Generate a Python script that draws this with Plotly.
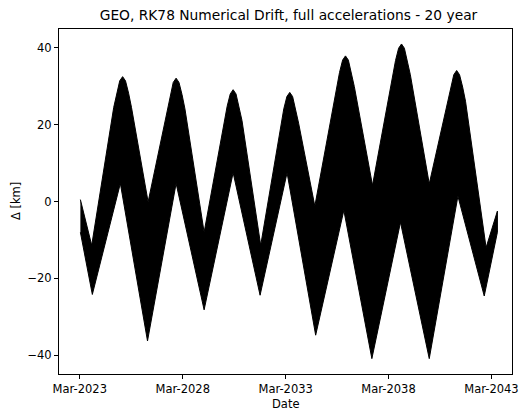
import datetime as dt
import plotly.graph_objects as go

# Upper envelope of the oscillation (decimal year, km)
upper_t = [2023.19, 2023.74,
           2024.81, 2024.95, 2025.10, 2025.24, 2025.38, 2025.53, 2025.67, 2026.48,
           2027.41, 2027.55, 2027.70, 2027.84, 2027.98, 2028.13, 2028.27, 2029.20,
           2030.18, 2030.32, 2030.47, 2030.61, 2030.75, 2030.90, 2031.04, 2031.95,
           2032.93, 2033.07, 2033.22, 2033.36, 2033.50, 2033.65, 2033.79, 2034.58,
           2035.64, 2035.78, 2035.93, 2036.07, 2036.21, 2036.36, 2036.50, 2037.38,
           2038.36, 2038.50, 2038.65, 2038.79, 2038.93, 2039.08, 2039.22, 2040.14,
           2041.04, 2041.18, 2041.33, 2041.47, 2041.61, 2041.76, 2041.90, 2042.90,
           2043.45]
upper_v = [0.5, -11.4,
           24.5, 28.2, 31.4, 32.5, 31.4, 28.2, 24.5, -0.1,
           24.1, 27.8, 31.0, 32.1, 31.0, 27.8, 24.1, -8.0,
           21.1, 24.8, 28.0, 29.1, 28.0, 24.8, 21.1, -11.4,
           20.4, 24.1, 27.3, 28.4, 27.3, 24.1, 20.4, -1.2,
           29.9, 33.6, 36.8, 37.9, 36.8, 33.6, 29.9, 4.2,
           33.0, 36.7, 39.9, 41.0, 39.9, 36.7, 33.0, 4.6,
           26.1, 29.8, 33.0, 34.1, 33.0, 29.8, 26.1, -12.0,
           -2.5]

# Lower envelope of the oscillation (decimal year, km)
lower_t = [2023.19, 2023.77, 2025.13, 2026.45, 2027.84, 2029.20, 2030.61, 2031.92,
           2033.23, 2034.62, 2035.99, 2037.35, 2038.74, 2040.14, 2041.53, 2042.81, 2043.45]
lower_v = [-8.0, -24.2, 4.7, -36.3, 4.7, -28.2, 7.5, -24.4,
           7.5, -34.8, -2.3, -40.9, -5.4, -40.9, 1.4, -24.6, -8.0]

tick_dates = ["2023-03-01", "2028-03-01", "2033-03-01", "2038-03-01", "2043-03-01"]
tick_text = ["Mar-2023", "Mar-2028", "Mar-2033", "Mar-2038", "Mar-2043"]
y_ticks = [-40, -20, 0, 20, 40]

x_range_years = [2022.15, 2044.16]


def to_date(y):
    base = dt.datetime(int(y), 1, 1)
    return base + dt.timedelta(days=(y - int(y)) * 365.25)


xs = [to_date(t) for t in upper_t] + [to_date(t) for t in reversed(lower_t)]
ys = upper_v + list(reversed(lower_v))

FONT = "DejaVu Sans"

fig = go.Figure()
fig.add_trace(go.Scatter(
    x=xs, y=ys, mode="lines", fill="toself",
    fillcolor="black", line=dict(color="black", width=1),
    hoverinfo="skip", showlegend=False,
))

axis_common = dict(
    showline=True, linecolor="black", linewidth=1, mirror=True,
    ticks="outside", ticklen=4, tickwidth=1, tickcolor="black",
    showgrid=False, zeroline=False,
    tickfont=dict(family=FONT, size=11.5, color="black"),
)

fig.update_layout(
    width=529, height=412,
    margin=dict(l=59, r=11, t=29, b=38),
    paper_bgcolor="white", plot_bgcolor="white",
    font=dict(family=FONT, color="black"),
    title=dict(text="GEO, RK78 Numerical Drift, full accelerations - 20 year",
               x=(59 + 518) / 2 / 529, xanchor="center",
               y=1 - 15.5 / 412, yanchor="middle", yref="container",
               font=dict(family=FONT, size=13.8, color="black")),
    xaxis=dict(type="date", range=[to_date(x_range_years[0]), to_date(x_range_years[1])],
               tickvals=tick_dates, ticktext=tick_text, **axis_common),
    yaxis=dict(range=[-44.9, 44.9], tickvals=y_ticks,
               ticktext=[("\u2212" + str(abs(v))) if v < 0 else str(v) for v in y_ticks],
               **axis_common),
    annotations=[
        dict(text="Date", xref="paper", yref="paper", x=0.5, y=-(405 - 374.5) / (374.5 - 29),
             xanchor="center", yanchor="middle", showarrow=False,
             font=dict(family=FONT, size=11.5, color="black")),
        dict(text="\u0394 [km]", xref="paper", yref="paper", x=-(59 - 15) / (518 - 59), y=0.5,
             xanchor="center", yanchor="middle", textangle=-90, showarrow=False,
             font=dict(family=FONT, size=11.5, color="black")),
    ],
)

fig.write_html("out.html")
